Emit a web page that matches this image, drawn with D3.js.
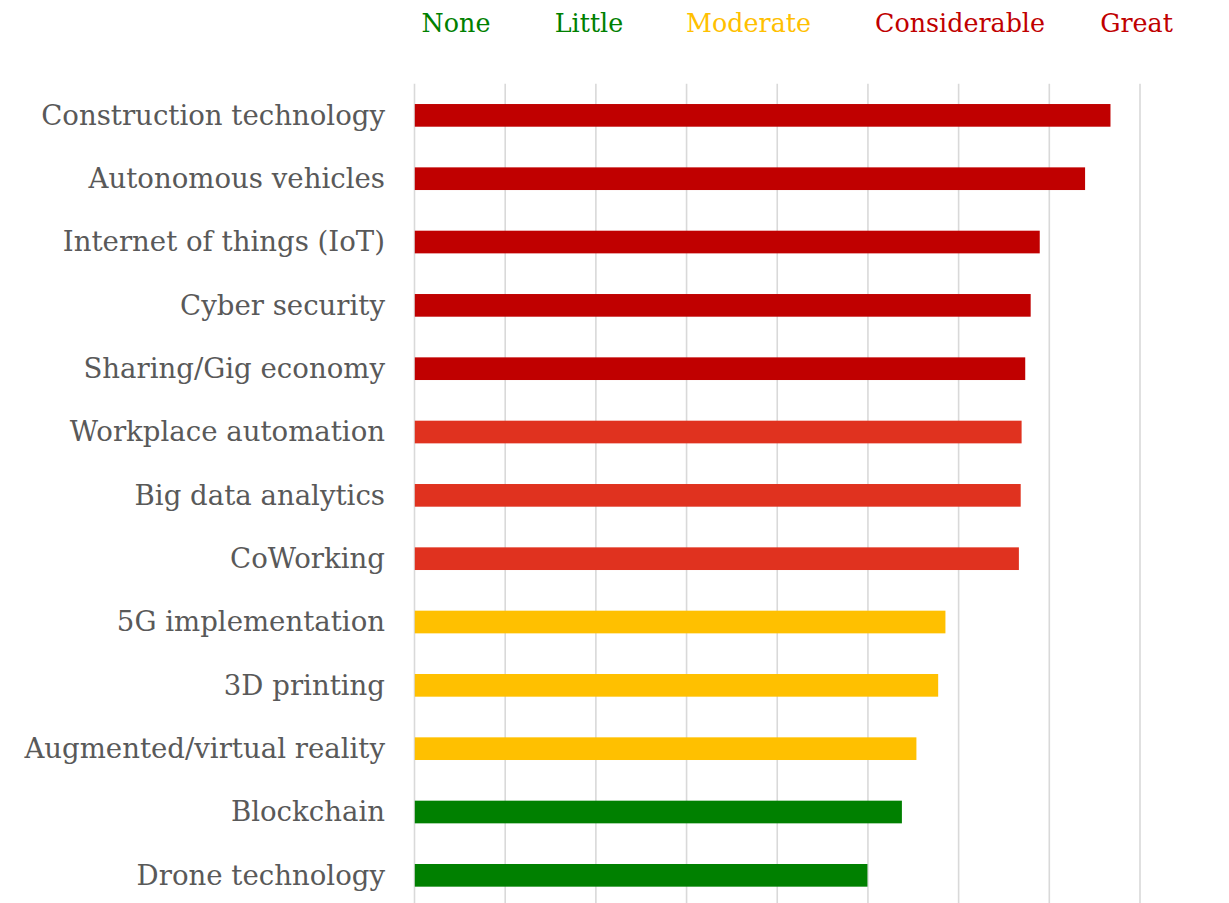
<!DOCTYPE html>
<html>
<head>
<meta charset="utf-8">
<script src="https://cdn.jsdelivr.net/npm/d3@7"></script>
<style>
  html, body { margin: 0; padding: 0; background: #ffffff; }
  svg { display: block; }
</style>
</head>
<body>
<svg id="chart" width="1229" height="903"></svg>
<script>
// Technologies, ranked by expected impact
const categories = [
  "Construction technology",
  "Autonomous vehicles",
  "Internet of things (IoT)",
  "Cyber security",
  "Sharing/Gig economy",
  "Workplace automation",
  "Big data analytics",
  "CoWorking",
  "5G implementation",
  "3D printing",
  "Augmented/virtual reality",
  "Blockchain",
  "Drone technology"
];

// Mean rating on a 1 (None) to 5 (Great) scale
const values = [4.84, 4.70, 4.45, 4.40, 4.37, 4.35, 4.345, 4.335, 3.93, 3.89, 3.77, 3.69, 3.50];

// Colour tier of each bar
const tiers = ["top", "top", "top", "top", "top", "high", "high", "high", "mid", "mid", "mid", "low", "low"];

// Rating scale labels across the top
const scaleLabels = ["None", "Little", "Moderate", "Considerable", "Great"];
const scaleColors = ["#008000", "#008000", "#FFC000", "#C00000", "#C00000"];

// Gridline positions along the rating axis
const tickValues = [1, 1.5, 2, 2.5, 3, 3.5, 4, 4.5, 5];

const tierColor = { top: "#C00000", high: "#E0321F", mid: "#FFC000", low: "#008000" };

const svg = d3.select("#chart");
const serif = "Georgia, 'DejaVu Serif', serif";

// Pick a font size so that a reference string spans the given width
function fitSize(str, width) {
  const probe = svg.append("text")
    .attr("font-family", serif)
    .attr("font-size", 100)
    .text(str);
  const w = probe.node().getComputedTextLength();
  probe.remove();
  return 100 * width / w;
}
const labelSize = fitSize("Construction technology", 344);
const headerSize = fitSize("Considerable", 170);

const x = d3.scaleLinear().domain([1, 5]).range([414, 1139.5]);
const y = d3.scaleBand()
  .domain(categories)
  .range([83.7, 907])
  .paddingInner(0.642)
  .paddingOuter(0.321);

// Vertical gridlines
const grid = svg.append("g")
  .attr("transform", `translate(0,${y.range()[1]})`)
  .call(d3.axisBottom(x)
    .tickValues(tickValues)
    .tickSize(-(y.range()[1] - y.range()[0]))
    .tickFormat(""));
grid.select(".domain").remove();
grid.selectAll(".tick line")
  .attr("stroke", "#D9D9D9")
  .attr("stroke-width", 1.6);

// Bars
svg.append("g").selectAll("rect")
  .data(categories)
  .join("rect")
  .attr("x", x(1) + 0.8)
  .attr("y", d => y(d))
  .attr("width", (d, i) => x(values[i]) - x(1) - 0.8)
  .attr("height", y.bandwidth())
  .attr("fill", (d, i) => tierColor[tiers[i]]);

// Category labels
const yAxis = svg.append("g")
  .attr("transform", "translate(414,0)")
  .call(d3.axisLeft(y).tickSize(0).tickPadding(29));
yAxis.select(".domain").remove();
yAxis.selectAll("text")
  .attr("font-family", serif)
  .attr("font-size", labelSize)
  .attr("fill", "#595959")
  .attr("dy", "0.34em");

// Rating scale header
const headerCenters = [456, 589, 748.5, 960, 1136.5];
svg.append("g").selectAll("text")
  .data(scaleLabels)
  .join("text")
  .attr("x", (d, i) => headerCenters[i])
  .attr("y", 32.3)
  .attr("text-anchor", "middle")
  .attr("font-family", serif)
  .attr("font-size", headerSize)
  .attr("fill", (d, i) => scaleColors[i])
  .text(d => d);
</script>
</body>
</html>
